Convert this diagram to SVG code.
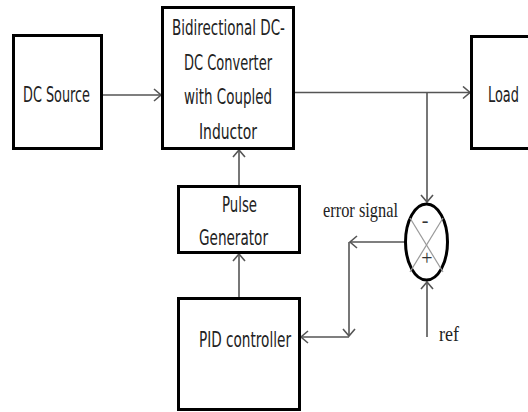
<svg xmlns="http://www.w3.org/2000/svg" width="528" height="412" viewBox="0 0 528 412">
<defs>
<style>
.box{fill:#fff;stroke:#000;stroke-width:3}
.lbl{font-family:"Liberation Sans Narrow","DejaVu Sans Condensed","Liberation Sans",sans-serif;font-size:22px;fill:#222}
.ser{font-family:"Liberation Serif","DejaVu Serif",serif;font-size:21px;fill:#222}
.con{fill:none;stroke:#555;stroke-width:1.6}
.xl{stroke:#999;stroke-width:1.2}
</style>
<marker id="ah" markerUnits="userSpaceOnUse" markerWidth="12" markerHeight="16" refX="9" refY="7" orient="auto" viewBox="0 0 12 16">
<path d="M2,1 L9,7 L2,13" fill="none" stroke="#555" stroke-width="1.6"/>
</marker>
</defs>
<rect width="528" height="412" fill="#fff"/>
<g id="connectors">
<path class="con" d="M102,95 H161" marker-end="url(#ah)"/>
<path class="con" d="M294,92.5 H470" marker-end="url(#ah)"/>
<path class="con" d="M427,92.5 V202" marker-end="url(#ah)"/>
<path class="con" d="M239,186 V150" marker-end="url(#ah)"/>
<path class="con" d="M239,298 V254" marker-end="url(#ah)"/>
<path class="con" d="M405,242 H350" marker-end="url(#ah)"/>
<path class="con" d="M349,242 V336" marker-end="url(#ah)"/>
<path class="con" d="M349,337 H301" marker-end="url(#ah)"/>
<path class="con" d="M427,337 V282" marker-end="url(#ah)"/>
</g>
<g id="dc-source">
<rect class="box" x="13.5" y="35.5" width="88" height="113"/>
<text class="lbl" x="23" y="102" textLength="67" lengthAdjust="spacingAndGlyphs">DC Source</text>
</g>
<g id="converter">
<rect class="box" x="162.5" y="7.5" width="131" height="141"/>
<text class="lbl" x="172" y="35" textLength="113" lengthAdjust="spacingAndGlyphs">Bidirectional DC-</text>
<text class="lbl" x="184" y="70" textLength="88" lengthAdjust="spacingAndGlyphs">DC Converter</text>
<text class="lbl" x="184" y="104" textLength="88" lengthAdjust="spacingAndGlyphs">with Coupled</text>
<text class="lbl" x="199" y="139" textLength="58" lengthAdjust="spacingAndGlyphs">Inductor</text>
</g>
<g id="load">
<rect class="box" x="471.5" y="36.5" width="62" height="112"/>
<text class="lbl" x="488" y="102" textLength="31" lengthAdjust="spacingAndGlyphs">Load</text>
</g>
<g id="pulse-generator">
<rect class="box" x="178.5" y="186.5" width="121" height="66"/>
<text class="lbl" x="222" y="212" textLength="35" lengthAdjust="spacingAndGlyphs">Pulse</text>
<text class="lbl" x="199" y="245" textLength="69" lengthAdjust="spacingAndGlyphs">Generator</text>
</g>
<g id="pid-controller">
<rect class="box" x="178.5" y="298.5" width="121" height="111"/>
<text class="lbl" x="199" y="347" textLength="92" lengthAdjust="spacingAndGlyphs">PID controller</text>
</g>
<g id="summing-junction">
<ellipse cx="426.5" cy="242" rx="21" ry="38" fill="#fff" stroke="#000" stroke-width="3"/>
<line class="xl" x1="410" y1="218" x2="443" y2="272"/>
<line class="xl" x1="443" y1="218" x2="410" y2="272"/>
<text class="ser" x="425" y="227" text-anchor="middle" style="font-size:20px;fill:#333">-</text>
<text class="ser" x="427" y="265" text-anchor="middle" style="font-size:20px;fill:#333">+</text>
</g>
<text class="ser" x="323" y="217" textLength="75" lengthAdjust="spacingAndGlyphs">error signal</text>
<text class="ser" x="439" y="341" textLength="20" lengthAdjust="spacingAndGlyphs">ref</text>
</svg>
